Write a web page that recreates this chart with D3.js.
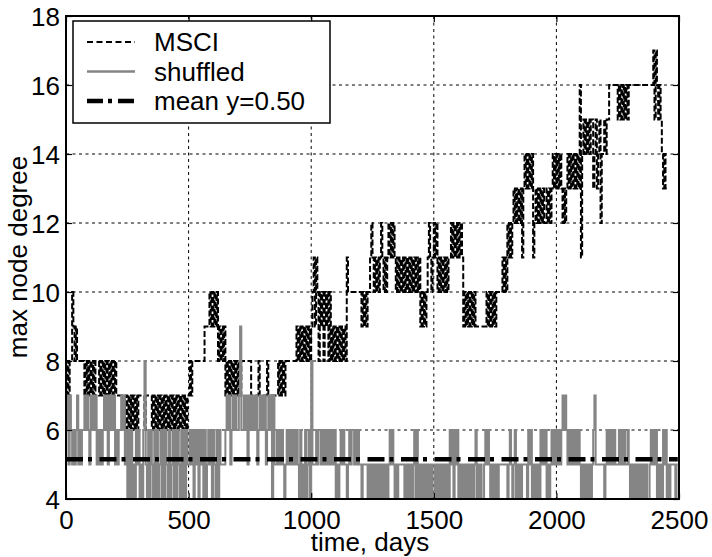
<!DOCTYPE html>
<html lang="en">
<head>
    <meta charset="UTF-8">
    <title>max node degree</title>
    <script src="https://d3js.org/d3.v7.min.js"></script>
    <style>
        body { margin: 0; background: #fff; }
        svg { display: block; }
        text { font-family: Arial, "Liberation Sans", Helvetica, sans-serif; fill: #000; }
        .tick line { stroke: #000; stroke-width: 1.2px; }
        .tick text { font-size: 26px; }
        .grid line { stroke: #000; stroke-width: 1px; stroke-dasharray: 3,3.5; }
    </style>
</head>
<body>
    <svg id="chart" width="712" height="557"></svg>

    <script>
        // x ticks / y ticks
        const xTicks = [0, 500, 1000, 1500, 2000, 2500];
        const yTicks = [4, 6, 8, 10, 12, 14, 16, 18];

        // series: [start day, one char per 5 days]
        // chars are base-36 digits, so a=10 ... h=17
        const msciSteps = [
            [0, "7878"], [20, "8a989"], [45, "888888"], [75, "787878787"], [120, "888"],
            [135, "787878787878787"], [210, "7777"], [230, "67676767676767"], [300, "7777677777"],
            [350, "676767676767676767676767676767"], [500, "7878"], [520, "888888888"], [565, "999"],
            [580, "9a9a9a9a"], [620, "898989"], [650, "78787878787878"], [720, "8888888"],
            [755, "777777877777787777777"], [860, "78787878"], [900, "8888888"],
            [935, "89898989898989"], [1005, "ab9ba"], [1030, "8a9a8a9a8a"], [1080, "8989898989898"],
            [1145, "b"], [1150, "aaaaaaaaaaa"], [1205, "9a9a9a"], [1235, "abcbabababcb"],
            [1295, "ababcbcbcba"], [1350, "babababababababa"], [1430, "bab9a9a9a"], [1475, "bcbabcbcab"],
            [1525, "abababab"], [1565, "bcbcbcbcbcb"], [1620, "9a9a9a9a9a9"], [1675, "99999999"],
            [1715, "a9a9a9a9a"], [1760, "aaaa"], [1780, "babacbcb"], [1820, "cdcdcdcdb"],
            [1865, "dededede"], [1905, "bcdcdcdcd"], [1950, "cc"], [1960, "dcdcd"], [1985, "edededed"],
            [2025, "cdcded"], [2055, "edededed"], [2095, "gb"], [2105, "efefefef"], [2145, "fdefdefce"],
            [2190, "efe"], [2205, "ff"], [2215, "ggggggg"], [2250, "fgfgfgfgfg"],
            [2300, "ggggggggggggggggggg"], [2395, "hfhg"], [2415, "fgf"], [2430, "eded"]
        ];
        const msciEnd = 2450;

        const shuffledSteps = [
            [0, "67576"], [25, "565675656"], [70, "67676576767"], [125, "56565"], [150, "6767576767"],
            [200, "5656"], [220, "676756"], [250, "4646454656"], [300, "454685"],
            [330, "4646546464564646546456464654646465"], [500, "5656"],
            [520, "46564656464565646546465"], [650, "6767567676"], [700, "6796"],
            [720, "676757676767567676756767"], [840, "475"], [855, "5656565456565656565"],
            [950, "4645464564"], [1000, "8"], [1005, "555656"], [1035, "6565656565656"], [1100, "454"],
            [1115, "56565"], [1140, "545656"], [1170, "656565"], [1200, "545555454545"],
            [1260, "45454545"], [1300, "454565654545"], [1360, "55554545"], [1400, "4545646454"],
            [1450, "5454545454"], [1500, "454545454545"], [1560, "46564656"], [1600, "4545454545"],
            [1650, "4545645454"], [1700, "45656545"], [1740, "454545"], [1770, "555555"],
            [1800, "456545645454"], [1860, "5555"], [1880, "4656"], [1900, "454545"], [1930, "465656"],
            [1960, "454"], [1975, "565656565"], [2020, "67676"], [2045, "56565656565"],
            [2100, "454545454"], [2145, "5675"], [2165, "555555"], [2195, "456565656"], [2240, "555"],
            [2255, "65656"], [2280, "5565"], [2300, "454545454545454"], [2375, "4565656"],
            [2410, "45454"], [2435, "656"], [2450, "4545"], [2470, "555"], [2485, "45"]
        ];
        const shuffledEnd = 2495;

        const meanValue = 5.15;
        const legendLabels = ["MSCI", "shuffled", "mean y=0.50"];

        const width = 712, height = 557;
        const margin = { top: 16, right: 33, bottom: 58, left: 66 };
        const w = width - margin.left - margin.right,
              h = height - margin.top - margin.bottom;

        // turn [start, chars] runs into step points
        function expand(steps, endDay) {
            const pts = [];
            steps.forEach(([start, s], i) => {
                const next = i < steps.length - 1 ? steps[i + 1][0] : endDay;
                for (let k = 0; k < s.length; k++) {
                    const day = start + 5 * k;
                    if (day >= next) break;
                    pts.push({ day: day, value: parseInt(s[k], 36) });
                }
            });
            pts.push({ day: endDay, value: pts[pts.length - 1].value });
            return pts;
        }

        const msci = expand(msciSteps, msciEnd);
        const shuffled = expand(shuffledSteps, shuffledEnd);

        const svg = d3.select("#chart");
        const g = svg.append("g").attr("transform", `translate(${margin.left},${margin.top})`);

        const x = d3.scaleLinear().domain([0, 2500]).range([0, w]);
        const y = d3.scaleLinear().domain([4, 18]).range([h, 0]);

        // grid
        g.append("g").attr("class", "grid")
            .selectAll("line").data(xTicks.slice(1, -1)).join("line")
            .attr("x1", d => x(d)).attr("x2", d => x(d))
            .attr("y1", 0).attr("y2", h);
        g.append("g").attr("class", "grid")
            .selectAll("line").data(yTicks.slice(1, -1)).join("line")
            .attr("x1", 0).attr("x2", w)
            .attr("y1", d => y(d)).attr("y2", d => y(d));

        const line = d3.line()
            .x(d => x(d.day))
            .y(d => y(d.value))
            .curve(d3.curveStepAfter);

        g.append("path")
            .datum(msci)
            .attr("d", line)
            .attr("fill", "none")
            .attr("stroke", "#000")
            .attr("stroke-width", 2)
            .attr("stroke-dasharray", "6,2.5");

        g.append("path")
            .datum(shuffled)
            .attr("d", line)
            .attr("fill", "none")
            .attr("stroke", "#858585")
            .attr("stroke-width", 2);

        g.append("line")
            .attr("x1", x(0)).attr("x2", x(shuffledEnd))
            .attr("y1", y(meanValue)).attr("y2", y(meanValue))
            .attr("stroke", "#000")
            .attr("stroke-width", 4.5)
            .attr("stroke-dasharray", "17,5,4,7.5");

        // axes, ticks inside the box
        const fmt = d3.format("d");
        g.append("g").attr("transform", `translate(0,${h})`)
            .call(d3.axisBottom(x).tickValues(xTicks).tickFormat(fmt).tickSize(-6).tickSizeOuter(0).tickPadding(11.5))
            .call(a => a.select(".domain").remove());
        g.append("g")
            .call(d3.axisTop(x).tickValues(xTicks).tickSize(-6).tickSizeOuter(0).tickFormat(""))
            .call(a => a.select(".domain").remove());
        g.append("g")
            .call(d3.axisLeft(y).tickValues(yTicks).tickFormat(fmt).tickSize(-6).tickSizeOuter(0).tickPadding(6))
            .call(a => a.select(".domain").remove())
            .selectAll("text").attr("dy", "0.36em");
        g.append("g").attr("transform", `translate(${w},0)`)
            .call(d3.axisRight(y).tickValues(yTicks).tickSize(-6).tickSizeOuter(0).tickFormat(""))
            .call(a => a.select(".domain").remove());

        g.append("rect")
            .attr("width", w).attr("height", h)
            .attr("fill", "none")
            .attr("stroke", "#000")
            .attr("stroke-width", 2);

        // axis labels
        svg.append("text")
            .attr("x", 370).attr("y", 551)
            .attr("text-anchor", "middle")
            .style("font-size", "26px")
            .text("time, days");
        svg.append("text")
            .attr("transform", "translate(27,257) rotate(-90)")
            .attr("text-anchor", "middle")
            .style("font-size", "26px")
            .text("max node degree");

        // legend
        const legend = svg.append("g").attr("transform", "translate(73,21)");
        legend.append("rect")
            .attr("width", 257).attr("height", 102)
            .attr("fill", "#fff")
            .attr("stroke", "#000")
            .attr("stroke-width", 1.5);

        const legendStyles = [
            { stroke: "#000", width: 1.8, dash: "6,3.5" },
            { stroke: "#858585", width: 2.5, dash: null },
            { stroke: "#000", width: 4.5, dash: "16,5,4,6" }
        ];

        legendLabels.forEach((label, i) => {
            const row = legend.append("g").attr("transform", `translate(0,${21 + i * 29.5})`);
            row.append("line")
                .attr("x1", 14).attr("x2", 62)
                .attr("stroke", legendStyles[i].stroke)
                .attr("stroke-width", legendStyles[i].width)
                .attr("stroke-dasharray", legendStyles[i].dash);
            row.append("text")
                .attr("x", 81).attr("dy", "0.36em")
                .style("font-size", "26px")
                .text(label);
        });
    </script>
</body>
</html>
